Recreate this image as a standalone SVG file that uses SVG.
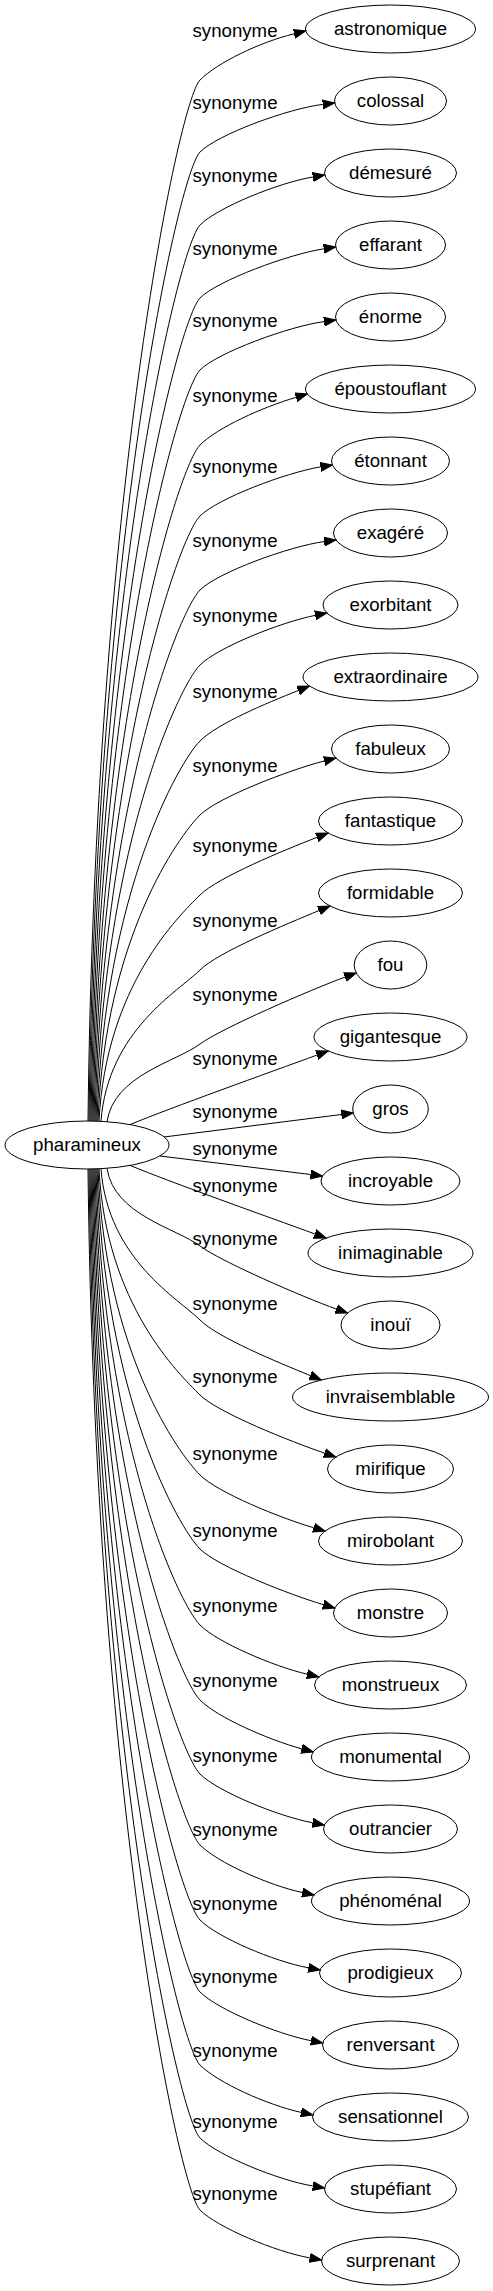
<svg xmlns="http://www.w3.org/2000/svg" width="493" height="2291" viewBox="0 0 493 2291">
<style>
.n ellipse{fill:none;stroke:#000;stroke-width:1}
text{font-family:"Liberation Sans",Arial,sans-serif;font-size:18.67px;fill:#000;text-anchor:middle}
#edges path{fill:none;stroke:#000;stroke-width:1;marker-end:url(#arr)}
</style>
<defs>
<marker id="arr" viewBox="0 -5 13 10" refX="0" refY="0" markerWidth="13" markerHeight="10" orient="auto" markerUnits="userSpaceOnUse"><path d="M0,-4.5L12,0L0,4.5z" fill="#000" stroke="#000" stroke-width="1"/></marker>
</defs>
<rect width="493" height="2291" fill="#fff"/>
<g id="edges">
<path d="M88,1121 C95,496.4 179,101 200,80 C217.5,62.5 260.1,42.1 294.1,33.8"/>
<path d="M89,1121 C96,539.6 179,173 200,152 C217.5,134.5 288,108.6 322.8,104.4"/>
<path d="M90,1121 C97,583.4 179,246 200,225 C217.5,207.5 278.4,182.8 312.9,177"/>
<path d="M91,1121 C98,627.2 179,319 200,298 C217.5,280.5 289.2,254.1 323.8,248.8"/>
<path d="M92,1121 C99,670.4 179,391 200,370 C217.5,352.5 289.3,326.3 324,321.6"/>
<path d="M93,1121 C100,715.4 179,466 200,445 C217.5,427.5 262.3,407.3 295.9,397.4"/>
<path d="M94,1121 C101,758 179,537 200,516 C217.5,498.5 286,472.6 320.5,466.9"/>
<path d="M95,1121 C102,802.4 179,611 200,590 C217.5,572.5 289.4,546.3 324.1,541.6"/>
<path d="M96,1121 C103,847.4 179,686 200,665 C217.5,647.5 280.8,622.2 315.1,615.4"/>
<path d="M97,1121 C104,893 179,762 200,741 C217.5,723.5 265.8,703.5 298.3,690.5"/>
<path d="M98,1121 C105,937.4 179,836 200,815 C217.5,797.5 290.3,769.6 324.2,761"/>
<path d="M99,1121 C106,985.4 179,916 200,895 C217.5,877.5 284.3,850.1 316.9,837.4"/>
<path d="M101,1121 C108,1030.4 179,991 200,970 C217.5,952.5 286.6,924 318.9,910.6"/>
<path d="M107,1121.7 C114,1075 176,1062 200,1044 C220,1029 312.1,989.1 345,977.1"/>
<path d="M130,1124.6 C170,1108 269.9,1072.3 316.9,1055.1"/>
<path d="M164,1137 L341.3,1114.5"/>
<path d="M160,1156 L310.6,1174.5"/>
<path d="M130,1165.4 C170,1182 267.8,1216.8 314.8,1233.9"/>
<path d="M107,1168.3 C114,1215 176,1228 200,1246 C220,1261 303.3,1297.3 336.3,1309"/>
<path d="M101,1169 C108,1259.6 179,1299 200,1320 C217.5,1337.5 277.8,1362.3 310.2,1375.5"/>
<path d="M99,1169 C106,1304.6 179,1374 200,1395 C217.5,1412.5 291.4,1441.8 324.5,1453.1"/>
<path d="M98,1169 C105,1352.6 179,1454 200,1475 C217.5,1492.5 280,1517.9 313.6,1527.7"/>
<path d="M97,1169 C104,1397 179,1528 200,1549 C217.5,1566.5 289.7,1594.7 323.3,1604.6"/>
<path d="M96,1169 C103,1442.6 179,1604 200,1625 C217.5,1642.5 273.1,1666.1 307.1,1674.2"/>
<path d="M95,1169 C102,1487.6 179,1679 200,1700 C217.5,1717.5 267.9,1739.5 301.6,1748.8"/>
<path d="M94,1169 C101,1532 179,1753 200,1774 C217.5,1791.5 278.2,1816.3 312.6,1822.8"/>
<path d="M93,1169 C100,1574.6 179,1824 200,1845 C217.5,1862.5 268.1,1885.1 302.3,1892.5"/>
<path d="M92,1169 C99,1619.6 179,1899 200,1920 C217.5,1937.5 273.9,1961.4 308.3,1967.8"/>
<path d="M91,1169 C98,1662.8 179,1971 200,1992 C217.5,2009.5 276.6,2033.9 310.9,2040.7"/>
<path d="M90,1169 C97,1706.6 179,2044 200,2065 C217.5,2082.5 266.9,2104.8 301.1,2112.4"/>
<path d="M89,1169 C96,1750.4 179,2117 200,2138 C217.5,2155.5 278.3,2180.2 312.8,2186"/>
<path d="M88,1169 C95,1793.6 179,2189 200,2210 C217.5,2227.5 275.4,2251.7 309.8,2257.9"/>
</g>
<g id="edge-labels">
<text x="235" y="37">synonyme</text>
<text x="235" y="109">synonyme</text>
<text x="235" y="182">synonyme</text>
<text x="235" y="255">synonyme</text>
<text x="235" y="327">synonyme</text>
<text x="235" y="402">synonyme</text>
<text x="235" y="473">synonyme</text>
<text x="235" y="547">synonyme</text>
<text x="235" y="622">synonyme</text>
<text x="235" y="698">synonyme</text>
<text x="235" y="772">synonyme</text>
<text x="235" y="852">synonyme</text>
<text x="235" y="927">synonyme</text>
<text x="235" y="1001">synonyme</text>
<text x="235" y="1065">synonyme</text>
<text x="235" y="1118">synonyme</text>
<text x="235" y="1155">synonyme</text>
<text x="235" y="1192">synonyme</text>
<text x="235" y="1245">synonyme</text>
<text x="235" y="1310">synonyme</text>
<text x="235" y="1383">synonyme</text>
<text x="235" y="1460">synonyme</text>
<text x="235" y="1537">synonyme</text>
<text x="235" y="1612">synonyme</text>
<text x="235" y="1687">synonyme</text>
<text x="235" y="1762">synonyme</text>
<text x="235" y="1836">synonyme</text>
<text x="235" y="1910">synonyme</text>
<text x="235" y="1983">synonyme</text>
<text x="235" y="2057">synonyme</text>
<text x="235" y="2128">synonyme</text>
<text x="235" y="2200">synonyme</text>
</g>
<g id="pharamineux" class="n"><ellipse cx="87" cy="1145" rx="82" ry="24"/><text x="87" y="1150.5">pharamineux</text></g>
<g id="astronomique" class="n"><ellipse cx="390.5" cy="29" rx="85" ry="24"/><text x="390.5" y="34.5">astronomique</text></g>
<g id="colossal" class="n"><ellipse cx="390.5" cy="101" rx="56" ry="24"/><text x="390.5" y="106.5">colossal</text></g>
<g id="demesure" class="n"><ellipse cx="390.5" cy="173" rx="66" ry="24"/><text x="390.5" y="178.5">démesuré</text></g>
<g id="effarant" class="n"><ellipse cx="390.5" cy="245" rx="55" ry="24"/><text x="390.5" y="250.5">effarant</text></g>
<g id="enorme" class="n"><ellipse cx="390.5" cy="317" rx="55" ry="24"/><text x="390.5" y="322.5">énorme</text></g>
<g id="epoustouflant" class="n"><ellipse cx="390.5" cy="389" rx="85" ry="24"/><text x="390.5" y="394.5">époustouflant</text></g>
<g id="etonnant" class="n"><ellipse cx="390.5" cy="461" rx="59" ry="24"/><text x="390.5" y="466.5">étonnant</text></g>
<g id="exagere" class="n"><ellipse cx="390.5" cy="533" rx="57" ry="24"/><text x="390.5" y="538.5">exagéré</text></g>
<g id="exorbitant" class="n"><ellipse cx="390.5" cy="605" rx="67.5" ry="24"/><text x="390.5" y="610.5">exorbitant</text></g>
<g id="extraordinaire" class="n"><ellipse cx="390.5" cy="677" rx="87.5" ry="24"/><text x="390.5" y="682.5">extraordinaire</text></g>
<g id="fabuleux" class="n"><ellipse cx="390.5" cy="749" rx="59" ry="24"/><text x="390.5" y="754.5">fabuleux</text></g>
<g id="fantastique" class="n"><ellipse cx="390.5" cy="821" rx="72" ry="24"/><text x="390.5" y="826.5">fantastique</text></g>
<g id="formidable" class="n"><ellipse cx="390.5" cy="893" rx="72" ry="24"/><text x="390.5" y="898.5">formidable</text></g>
<g id="fou" class="n"><ellipse cx="390.5" cy="965" rx="36.3" ry="24"/><text x="390.5" y="970.5">fou</text></g>
<g id="gigantesque" class="n"><ellipse cx="390.5" cy="1037" rx="76.7" ry="24"/><text x="390.5" y="1042.5">gigantesque</text></g>
<g id="gros" class="n"><ellipse cx="390.5" cy="1109" rx="37.8" ry="24"/><text x="390.5" y="1114.5">gros</text></g>
<g id="incroyable" class="n"><ellipse cx="390.5" cy="1181" rx="69.5" ry="24"/><text x="390.5" y="1186.5">incroyable</text></g>
<g id="inimaginable" class="n"><ellipse cx="390.5" cy="1253" rx="82.5" ry="24"/><text x="390.5" y="1258.5">inimaginable</text></g>
<g id="inoui" class="n"><ellipse cx="390.5" cy="1325" rx="49.5" ry="24"/><text x="390.5" y="1330.5">inouï</text></g>
<g id="invraisemblable" class="n"><ellipse cx="390.5" cy="1397" rx="98" ry="24"/><text x="390.5" y="1402.5">invraisemblable</text></g>
<g id="mirifique" class="n"><ellipse cx="390.5" cy="1469" rx="63" ry="24"/><text x="390.5" y="1474.5">mirifique</text></g>
<g id="mirobolant" class="n"><ellipse cx="390.5" cy="1541" rx="72" ry="24"/><text x="390.5" y="1546.5">mirobolant</text></g>
<g id="monstre" class="n"><ellipse cx="390.5" cy="1613" rx="57" ry="24"/><text x="390.5" y="1618.5">monstre</text></g>
<g id="monstrueux" class="n"><ellipse cx="390.5" cy="1685" rx="76" ry="24"/><text x="390.5" y="1690.5">monstrueux</text></g>
<g id="monumental" class="n"><ellipse cx="390.5" cy="1757" rx="79" ry="24"/><text x="390.5" y="1762.5">monumental</text></g>
<g id="outrancier" class="n"><ellipse cx="390.5" cy="1829" rx="67" ry="24"/><text x="390.5" y="1834.5">outrancier</text></g>
<g id="phenomenal" class="n"><ellipse cx="390.5" cy="1901" rx="79" ry="24"/><text x="390.5" y="1906.5">phénoménal</text></g>
<g id="prodigieux" class="n"><ellipse cx="390.5" cy="1973" rx="71" ry="24"/><text x="390.5" y="1978.5">prodigieux</text></g>
<g id="renversant" class="n"><ellipse cx="390.5" cy="2045" rx="68" ry="24"/><text x="390.5" y="2050.5">renversant</text></g>
<g id="sensationnel" class="n"><ellipse cx="390.5" cy="2117" rx="78" ry="24"/><text x="390.5" y="2122.5">sensationnel</text></g>
<g id="stupefiant" class="n"><ellipse cx="390.5" cy="2189" rx="66" ry="24"/><text x="390.5" y="2194.5">stupéfiant</text></g>
<g id="surprenant" class="n"><ellipse cx="390.5" cy="2261" rx="69" ry="24"/><text x="390.5" y="2266.5">surprenant</text></g>
</svg>
